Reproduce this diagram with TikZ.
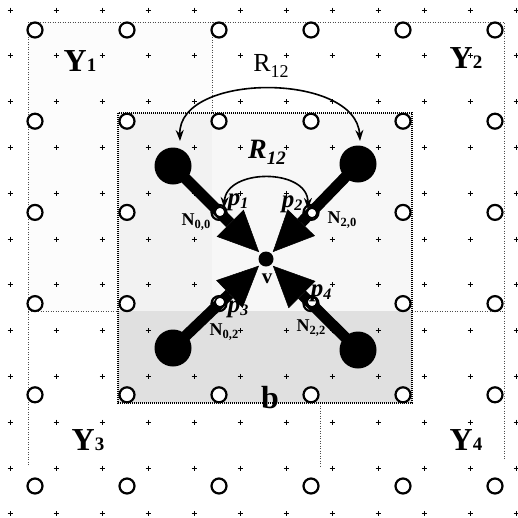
\documentclass[tikz,border=0pt]{standalone}
\usepackage{fontspec}
\setmainfont{Liberation Serif}
\usetikzlibrary{arrows.meta}
\newcommand\Ylab[1]{Y{\fontsize{19}{19}\selectfont #1}}
\newcommand\Nlab[1]{N\raisebox{-0.35ex}{\fontsize{12.5}{12.5}\selectfont #1}}
\newcommand\plab[1]{p\raisebox{-0.3ex}{\fontsize{16}{16}\selectfont #1}}
\begin{document}
\begin{tikzpicture}[x=1pt,y=-1pt,
  cross/.style={line width=1pt},
  gridcirc/.style={circle,draw,line width=2.2pt,fill=white,minimum size=15pt,inner sep=0pt},
  bigdot/.style={circle,fill=black,minimum size=37pt,inner sep=0pt},
  pcirc/.style={circle,draw,line width=1.6pt,fill=white,minimum size=10pt,inner sep=0pt},
  vdot/.style={circle,fill=black,minimum size=15pt,inner sep=0pt},
  shaft/.style={line width=11pt,-{Triangle[length=41pt,width=38pt,line width=0.5pt]},shorten >=2pt},
  rarc/.style={line width=1.6pt,{Stealth[length=11pt,width=8pt]}-{Stealth[length=11pt,width=8pt]}},
  region/.style={line width=0.8pt,dash pattern=on 1pt off 1.5pt,black!70},
  boxb/.style={line width=2.6pt,dash pattern=on 1.2pt off 0.8pt},
  ylab/.style={inner sep=0pt,font=\fontsize{32}{32}\selectfont\bfseries},
  nlab/.style={inner sep=0pt,font=\fontsize{18}{18}\selectfont\bfseries},
  plab/.style={inner sep=0pt,font=\fontsize{25}{25}\selectfont\bfseries\itshape},
]
\useasboundingbox (0,0) rectangle (518,517);
% shading
\fill[gray!2] (28,22) rectangle (212,311);
\fill[gray!10] (118,113) rectangle (212,311);
\fill[gray!6] (212,113) rectangle (412,311);
\fill[gray!24] (118,311) rectangle (412,403);
% crosses
\foreach \i in {0,...,11} \foreach \j in {0,...,11}
  \draw[cross] ({10+46*\i-2.5},{10+45.8*\j}) -- ++(5,0) ({10+46*\i},{10+45.8*\j-2.5}) -- ++(0,5);
% region borders
\draw[region] (28,465) -- (28,22) -- (504,22) -- (504,460);
\draw[region] (212,22) -- (212,113);
\draw[region] (28,311) -- (118,311);
\draw[region] (412,311) -- (504,311);
\draw[region] (320,403) -- (320,468);
% box b
\draw[boxb] (118,113) rectangle (412,403);
% grid circles
\foreach \i in {0,...,5} \foreach \j in {0,...,5}
  \node[gridcirc] (g\i\j) at ({35+92*\i},{30+91.2*\j}) {};
% main nodes
\node[bigdot] (n00) at (173,166) {};
\node[bigdot] (n20) at (358,164) {};
\node[bigdot] (n02) at (173,348) {};
\node[bigdot] (n22) at (358,350) {};
\node[vdot] (v) at (266,259) {};
% shafts
\draw[shaft] (n00.center) -- (v);
\draw[shaft] (n20.center) -- (v);
\draw[shaft] (n02.center) -- (v);
\draw[shaft] (n22.center) -- (v);
\node[pcirc] (p1) at (220,212) {};
\node[pcirc] (p2) at (312,213) {};
\node[pcirc] (p3) at (220,302) {};
\node[pcirc] (p4) at (312,302) {};
% arcs
\coordinate (ra) at (180,141);
\coordinate (rb) at (360,141);
\draw[rarc] (ra) .. controls (178,72) and (356,72) .. (rb);
\draw[rarc] (p1.north east) .. controls (226,168) and (308,168) .. (p2.north west);
% labels
\node[ylab] (y1) at (80,61) {\Ylab{1}};
\node[ylab] (y2) at (466,58) {\Ylab{2}};
\node[ylab] (y3) at (88,440) {\Ylab{3}};
\node[ylab] (y4) at (466,440) {\Ylab{4}};
\node[inner sep=0pt,font=\fontsize{26}{26}\selectfont] (rout) at (271,66) {R\raisebox{-0.45ex}{\fontsize{18}{18}\selectfont 12}};
\node[inner sep=0pt,font=\fontsize{28}{28}\selectfont\bfseries\itshape] (rin) at (267,152) {R\raisebox{-0.45ex}{\fontsize{19}{19}\selectfont 12}};
\node[plab] (lp1) at (238,202) {\plab{1}};
\node[plab] (lp2) at (292,204) {\plab{2}};
\node[plab] (lp3) at (238,309) {\plab{3}};
\node[plab] (lp4) at (321,293) {\plab{4}};
\node[nlab] (ln00) at (196,222) {\Nlab{0,0}};
\node[nlab] (ln20) at (342,220) {\Nlab{2,0}};
\node[nlab] (ln02) at (224,332) {\Nlab{0,2}};
\node[nlab] (ln22) at (311,328) {\Nlab{2,2}};
\node[inner sep=0pt,font=\fontsize{21}{21}\selectfont\bfseries] (lv) at (267,279) {v};
\node[inner sep=0pt,font=\fontsize{32}{32}\selectfont\bfseries] (lb) at (270,398) {b};
\end{tikzpicture}
\end{document}
